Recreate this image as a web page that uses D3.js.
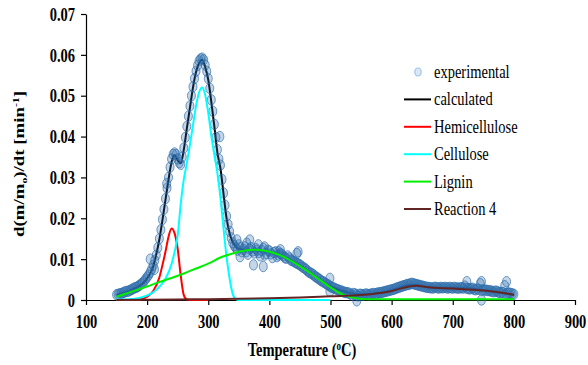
<!DOCTYPE html>
<html lang="en">
<head>
<meta charset="utf-8">
<title>DTG deconvolution</title>
<script src="https://cdn.jsdelivr.net/npm/d3@7"></script>
<style>
  body { margin: 0; background: #fff; }
</style>
</head>
<body>
<script>
// ---- data (temperature in C, rate in 1/min) ----
var experimental = [
  [150,0.0013],[155,0.0015],[160,0.0017],[165,0.0021],[170,0.0022],[175,0.0026],[180,0.0030],[185,0.0033],
  [190,0.0039],[195,0.0046],[200,0.0056],[205,0.0068],[210,0.0085],[215,0.0110],[220,0.0150],[225,0.0197],
  [230,0.0248],[235,0.0300],[240,0.0345],[245,0.0360],[250,0.0345],[255,0.0332],[260,0.0372],[265,0.0425],
  [270,0.0475],[275,0.0522],[280,0.0560],[285,0.0585],[290,0.0592],[295,0.0575],[300,0.0542],[305,0.0490],
  [310,0.0430],[315,0.0368],[320,0.0330],[325,0.0262],[330,0.0205],[335,0.0168],[340,0.0140],[345,0.0128],
  [350,0.0135],[355,0.0118],[360,0.0130],[365,0.0112],[370,0.0128],[375,0.0115],[380,0.0122],[385,0.0108],
  [390,0.0126],[395,0.0114],[400,0.0120],[405,0.0104],[410,0.0118],[415,0.0110],[420,0.0112],[425,0.0104],
  [430,0.0108],[435,0.0098],[440,0.0095],[445,0.0090],[450,0.0086],[455,0.0080],[460,0.0075],[465,0.0068],
  [470,0.0064],[475,0.0058],[480,0.0053],[485,0.0047],[490,0.0043],[495,0.0038],[500,0.0033],[505,0.0030],
  [510,0.0026],[515,0.0023],[520,0.0021],[525,0.0018],[530,0.0017],[535,0.0012],[540,0.0015],[545,0.0010],
  [550,0.0014],[555,0.0013],[560,0.0014],[565,0.0014],[570,0.0016],[575,0.0016],[580,0.0018],[585,0.0019],
  [590,0.0021],[595,0.0023],[600,0.0025],[605,0.0027],[610,0.0030],[615,0.0033],[620,0.0035],[625,0.0038],
  [630,0.0039],[635,0.0040],[640,0.0038],[645,0.0036],[650,0.0034],[655,0.0032],[660,0.0031],[665,0.0030],
  [670,0.0031],[675,0.0030],[680,0.0031],[685,0.0030],[690,0.0030],[695,0.0031],[700,0.0029],[705,0.0030],
  [710,0.0029],[715,0.0030],[720,0.0034],[725,0.0028],[730,0.0028],[735,0.0026],[740,0.0027],[745,0.0040],
  [750,0.0025],[755,0.0024],[760,0.0023],[765,0.0021],[770,0.0022],[775,0.0019],[780,0.0019],[785,0.0035],
  [790,0.0017],[795,0.0016],[800,0.0014]
];
// readings taken between the ones above
var experimentalMid = [
  [152.5,0.0014],[157.5,0.0016],[162.5,0.0019],[167.5,0.0021],[172.5,0.0024],[177.5,0.0028],[182.5,0.0031],
  [187.5,0.0036],[192.5,0.0042],[197.5,0.0051],[202.5,0.0061],[207.5,0.0076],[212.5,0.0097],[217.5,0.0128],
  [222.5,0.0172],[227.5,0.0222],[232.5,0.0274],[237.5,0.0325],[242.5,0.0356],[247.5,0.0356],[252.5,0.0336],
  [257.5,0.0350],[262.5,0.0398],[267.5,0.0450],[272.5,0.0500],[277.5,0.0542],[282.5,0.0574],[287.5,0.0590],
  [292.5,0.0588],[297.5,0.0560],[302.5,0.0518],[307.5,0.0462],[312.5,0.0398],[317.5,0.0345],[322.5,0.0295],
  [327.5,0.0232],[332.5,0.0185],[337.5,0.0152],[342.5,0.0133],[347.5,0.0122],[352.5,0.0128],[357.5,0.0124],
  [362.5,0.0118],[367.5,0.0125],[372.5,0.0120],[377.5,0.0126],[382.5,0.0116],[387.5,0.0121],[392.5,0.0110],
  [397.5,0.0122],[402.5,0.0113],[407.5,0.0116],[412.5,0.0106],[417.5,0.0114],[422.5,0.0108],[427.5,0.0102],
  [432.5,0.0103],[437.5,0.0096],[442.5,0.0092],[447.5,0.0088],[452.5,0.0083],[457.5,0.0078],[462.5,0.0071],
  [467.5,0.0066],[472.5,0.0061],[477.5,0.0055],[482.5,0.0050],[487.5,0.0045],[492.5,0.0040],[497.5,0.0036],
  [502.5,0.0031],[507.5,0.0028],[512.5,0.0025],[517.5,0.0022],[522.5,0.0019],[527.5,0.0018],[532.5,0.0015],
  [537.5,0.0016],[542.5,0.0013],[547.5,0.0014],[552.5,0.0012],[557.5,0.0015],[562.5,0.0013],[567.5,0.0015],
  [572.5,0.0015],[577.5,0.0017],[582.5,0.0018],[587.5,0.0020],[592.5,0.0022],[597.5,0.0024],[602.5,0.0026],
  [607.5,0.0029],[612.5,0.0031],[617.5,0.0034],[622.5,0.0036],[627.5,0.0038],[632.5,0.0041],[637.5,0.0039],
  [642.5,0.0037],[647.5,0.0035],[652.5,0.0033],[657.5,0.0031],[662.5,0.0030],[667.5,0.0029],[672.5,0.0031],
  [677.5,0.0029],[682.5,0.0030],[687.5,0.0031],[692.5,0.0029],[697.5,0.0030],[702.5,0.0031],[707.5,0.0029],
  [712.5,0.0030],[717.5,0.0029],[722.5,0.0029],[727.5,0.0027],[732.5,0.0029],[737.5,0.0025],[742.5,0.0026],
  [747.5,0.0024],[752.5,0.0024],[757.5,0.0023],[762.5,0.0022],[767.5,0.0020],[772.5,0.0021],[777.5,0.0018],
  [782.5,0.0018],[787.5,0.0016],[792.5,0.0017],[797.5,0.0015]
];
// scattered points that sit off the main band
var experimentalOutliers = [
  [205,0.0100],[212,0.0075],[232,0.0285],[319,0.0400],[347,0.0147],[352,0.0106],[363,0.0139],[368,0.0147],
  [374,0.0086],[382,0.0135],[390,0.0082],[392,0.0130],[415,0.0118],[418,0.0123],[445,0.0114],[447,0.0118],
  [499,0.0053],[499,0.0021],[543,-0.0002],[723,0.0045],[747,0.0045],[747,0.0000],[788,0.0045]
];
var calculated = [
  [150,0.0012],[160,0.0017],[170,0.0022],[180,0.0029],[190,0.0037],[200,0.0053],[210,0.0082],[215,0.0112],
  [220,0.0148],[225,0.0195],[230,0.0245],[235,0.0295],[240,0.0338],[245,0.0354],[250,0.0342],[255,0.0335],
  [260,0.0368],[265,0.0420],[270,0.0470],[275,0.0520],[280,0.0558],[285,0.0580],[290,0.0588],[295,0.0570],
  [300,0.0539],[305,0.0485],[310,0.0425],[315,0.0360],[320,0.0322],[325,0.0260],[330,0.0200],[335,0.0163],
  [340,0.0142],[345,0.0131],[350,0.0125],[360,0.0123],[370,0.0122],[380,0.0121],[390,0.0119],[400,0.0117],
  [410,0.0113],[420,0.0108],[430,0.0101],[440,0.0093],[450,0.0084],[460,0.0074],[470,0.0063],[480,0.0053],
  [490,0.0043],[500,0.0034],[510,0.0027],[520,0.0022],[530,0.0018],[540,0.0015],[550,0.0014],[560,0.0014],
  [570,0.0015],[580,0.0017],[590,0.0020],[600,0.0024],[610,0.0029],[620,0.0034],[630,0.0037],[640,0.0037],
  [650,0.0034],[660,0.0031],[670,0.0030],[680,0.0030],[690,0.0030],[700,0.0030],[710,0.0030],[720,0.0029],
  [730,0.0028],[740,0.0026],[750,0.0024],[760,0.0022],[770,0.0020],[780,0.0018],[790,0.0015],[800,0.0012]
];
var hemicellulose = [
  [150,0],[180,0],[190,0.0002],[200,0.0008],[210,0.0022],[220,0.0055],[225,0.0085],[230,0.0118],
  [235,0.0155],[240,0.0175],[245,0.0163],[250,0.0125],[255,0.0060],[260,0.0012],[265,0.0001],[270,0],[300,0]
];
var cellulose = [
  [150,0.0001],[170,0.0002],[180,0.0003],[190,0.0006],[200,0.0011],[210,0.0019],[220,0.0032],[230,0.0052],
  [240,0.0088],[245,0.0118],[250,0.0158],[255,0.0235],[260,0.0295],[265,0.0335],[270,0.0380],[275,0.0428],
  [280,0.0475],[285,0.0508],[290,0.0520],[295,0.0502],[300,0.0458],[305,0.0402],[310,0.0355],[315,0.0310],
  [320,0.0250],[325,0.0175],[330,0.0105],[335,0.0052],[340,0.0015],[345,0.0002],[350,0],[500,0]
];
var lignin = [
  [150,0.0008],[160,0.0013],[170,0.0018],[180,0.0023],[190,0.0028],[200,0.0033],[220,0.0044],[240,0.0054],
  [260,0.0065],[280,0.0077],[300,0.0089],[320,0.0104],[340,0.0114],[360,0.0121],[375,0.0123],[390,0.0121],
  [400,0.0118],[420,0.0108],[440,0.0092],[460,0.0073],[480,0.0052],[500,0.0031],[520,0.0013],[540,0.0005],
  [560,0.0002],[600,0.0002],[800,0.0002]
];
var reaction4 = [
  [150,0],[250,0.0001],[300,0.0002],[350,0.0003],[400,0.0004],[450,0.0006],[500,0.0009],[550,0.0012],
  [580,0.0017],[600,0.0022],[620,0.0030],[640,0.0035],[660,0.0031],[700,0.0028],[750,0.0023],[800,0.0013]
];

var xTicks = [100, 200, 300, 400, 500, 600, 700, 800, 900];
var yTicks = [0, 0.01, 0.02, 0.03, 0.04, 0.05, 0.06, 0.07];
var legendNames = ["experimental", "calculated", "Hemicellulose", "Cellulose", "Lignin", "Reaction 4"];
var lineColors = ["#000000", "#ff0000", "#00ffff", "#00ee00", "#632523"];

var FONT = "'Liberation Serif', 'DejaVu Serif', 'Times New Roman', serif";
var STRETCH = " scale(1,1.3)";   // the source picture is taller than wide, text included

// ---- chart ----
var w = 588, h = 365;
var svg = d3.select("body").append("svg").attr("width", w).attr("height", h)
  .style("font-family", FONT);
svg.append("rect").attr("width", w).attr("height", h).attr("fill", "#fff");

var x = d3.scaleLinear().domain([100, 900]).range([86, 575]);
var y = d3.scaleLinear().domain([0, 0.07]).range([300, 14]);

// axes
var xAxis = svg.append("g")
  .attr("transform", "translate(0," + y(0) + ")")
  .call(d3.axisBottom(x).tickValues(xTicks).tickSize(5).tickSizeOuter(0));
var yAxis = svg.append("g")
  .attr("transform", "translate(" + x(100) + ",0)")
  .call(d3.axisLeft(y).tickValues(yTicks).tickSize(5).tickSizeOuter(0)
    .tickFormat(function(d) { return d === 0 ? "0" : d.toFixed(2); }));
[xAxis, yAxis].forEach(function(a) {
  a.attr("font-family", null).attr("font-size", null);
  a.selectAll("text").style("font-family", FONT).attr("font-size", 14.5)
    .attr("font-weight", "bold").attr("fill", "#000")
    .attr("x", null).attr("y", null).attr("dy", null);
  a.select(".domain").attr("stroke", "#000").attr("stroke-width", 1.2);
  a.selectAll(".tick line").attr("stroke", "#000").attr("stroke-width", 1.2);
});
xAxis.selectAll(".tick text").attr("transform", "translate(0,28)" + STRETCH);
yAxis.selectAll(".tick text").attr("transform", "translate(-11,6.2)" + STRETCH);

var line = d3.line()
  .x(function(d) { return x(d[0]); })
  .y(function(d) { return y(d[1]); })
  .curve(d3.curveMonotoneX);

// calculated curve under the markers
svg.append("path").datum(calculated)
  .attr("d", line).attr("fill", "none")
  .attr("stroke", lineColors[0]).attr("stroke-width", 2);

// experimental markers (slightly tall, like the source)
svg.append("g").selectAll("ellipse")
  .data(experimental.concat(experimentalMid, experimentalOutliers))
  .enter().append("ellipse")
  .attr("cx", function(d) { return x(d[0]); })
  .attr("cy", function(d) { return y(d[1]); })
  .attr("rx", 4).attr("ry", 5.2)
  .attr("fill", "#2a6aaa").attr("fill-opacity", 0.28)
  .attr("stroke", "#2a6aaa").attr("stroke-opacity", 0.65).attr("stroke-width", 1);

// fitted components
var comps = [hemicellulose, cellulose, lignin, reaction4];
comps.forEach(function(c, i) {
  svg.append("path").datum(c)
    .attr("d", line).attr("fill", "none")
    .attr("stroke", lineColors[i + 1]).attr("stroke-width", 2);
});

// legend
var legend = svg.append("g");
legendNames.forEach(function(name, i) {
  var ly = 72 + i * 27.4;
  if (i === 0) {
    legend.append("ellipse").attr("cx", 418).attr("cy", ly).attr("rx", 3.2).attr("ry", 4)
      .attr("fill", "#dbe8f5").attr("stroke", "#9dc3e6").attr("stroke-width", 1.2);
  } else {
    legend.append("line").attr("x1", 404).attr("x2", 431).attr("y1", ly).attr("y2", ly)
      .attr("stroke", lineColors[i - 1]).attr("stroke-width", 2);
  }
  legend.append("text").attr("transform", "translate(434," + (ly + 6) + ")" + STRETCH)
    .style("font-family", FONT).attr("font-size", 14.5).text(name);
});

// axis titles
var xt = svg.append("text").attr("transform", "translate(302,356)" + STRETCH)
  .style("font-family", FONT)
  .attr("text-anchor", "middle").attr("font-size", 14.5).attr("font-weight", "bold");
xt.append("tspan").text("Temperature (");
xt.append("tspan").attr("font-size", 9).attr("dy", -5).text("o");
xt.append("tspan").attr("dy", 5).text("C)");

var yt = svg.append("text").attr("transform", "translate(24,164)" + STRETCH + " rotate(-90)")
  .style("font-family", FONT)
  .attr("text-anchor", "middle").attr("font-size", 14.5).attr("font-weight", "bold");
yt.append("tspan").text("d(m/m");
yt.append("tspan").attr("font-size", 9).attr("dy", 3).text("o");
yt.append("tspan").attr("dy", -3).text(")/dt [min");
yt.append("tspan").attr("font-size", 9).attr("dy", -5).text("-1");
yt.append("tspan").attr("dy", 5).text("]");
</script>
</body>
</html>
